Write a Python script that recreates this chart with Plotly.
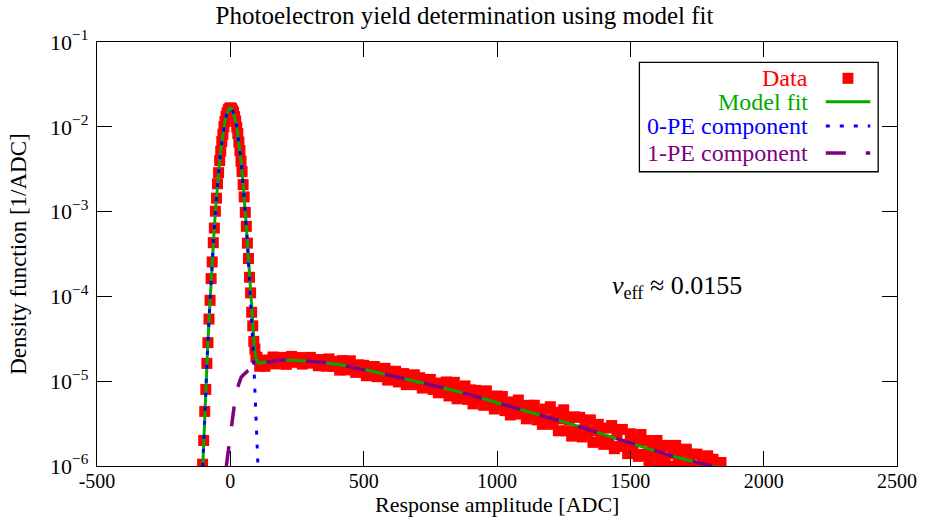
import plotly.graph_objects as go

# ---------------- data ----------------
# measured density, peak region (4 ADC bins)
peak_x = list(range(-104, 100, 4))
peak_y = [1.05e-6, 2.0e-6, 4.4e-6, 8.0e-6, 1.62e-5, 2.85e-5, 5.4e-5, 9.0e-5, 1.62e-4, 2.55e-4,
          4.3e-4, 6.4e-4, 1.01e-3, 1.44e-3, 2.13e-3, 2.88e-3, 4.0e-3, 5.15e-3, 6.7e-3, 8.15e-3,
          1.0e-2, 1.155e-2, 1.335e-2, 1.46e-2, 1.585e-2, 1.64e-2, 1.675e-2, 1.65e-2, 1.57e-2, 1.475e-2,
          1.32e-2, 1.17e-2, 9.9e-3, 8.3e-3, 6.6e-3, 5.25e-3, 3.93e-3, 2.96e-3, 2.08e-3, 1.49e-3,
          9.8e-4, 6.7e-4, 4.25e-4, 2.8e-4, 1.68e-4, 1.1e-4, 6.5e-5, 4.5e-5, 2.95e-5, 2.4e-5, 1.93e-5]

# measured density, tail region (10 ADC bins), in units of 1e-6 / ADC
tail_x = list(range(100, 1860, 10))
tail_y_e6 = [
    19.0, 15.0, 16.9, 15.0, 17.8, 16.7, 19.3, 16.0, 17.7, 16.9,
    19.1, 15.8, 18.1, 19.6, 16.7, 17.4, 19.0, 15.9, 18.2, 16.7,
    19.1, 16.3, 18.0, 15.2, 17.1, 18.0, 15.0, 18.3, 15.6, 14.9,
    17.1, 13.5, 17.5, 15.7, 13.6, 17.4, 13.9, 12.7, 15.6, 13.8,
    15.4, 11.6, 14.0, 12.1, 14.9, 11.3, 13.3, 11.9, 14.2, 10.3,
    12.9, 10.6, 13.1, 9.8, 11.2, 12.3, 9.1, 11.2, 9.8, 11.9,
    9.1, 11.0, 8.3, 9.9, 9.0, 10.5, 8.0, 9.5, 7.3, 9.3,
    7.6, 9.8, 6.7, 8.3, 9.7, 6.2, 8.2, 6.8, 8.8, 6.1,
    7.9, 5.4, 7.8, 6.2, 6.8, 5.2, 7.7, 5.3, 6.6, 4.7,
    6.7, 5.1, 6.6, 4.5, 5.3, 4.0, 5.7, 4.4, 6.0, 4.1,
    5.0, 3.6, 5.2, 4.1, 5.2, 3.5, 4.3, 3.1, 4.7, 3.5,
    5.0, 3.1, 4.3, 2.6, 3.6, 4.6, 2.6, 3.5, 2.25, 3.8,
    2.6, 3.75, 2.2, 3.25, 2.5, 3.5, 1.9, 2.6, 3.1, 2.0,
    1.8, 2.8, 2.0, 3.0, 1.6, 2.45, 1.7, 2.7, 1.8, 1.4,
    2.4, 1.6, 2.0, 1.3, 2.35, 1.37, 2.0, 1.15, 1.7, 1.4,
    2.0, 1.16, 1.7, 1.2, 1.75, 1.0, 1.4, 1.75, 1.1, 1.45,
    0.93, 1.58, 1.09, 1.38, 0.92, 1.38, 0.92, 1.2, 0.8, 1.32,
    0.91, 1.2, 0.8, 1.05, 1.1, 0.82]

# 0-PE component (Gaussian pedestal)
pe0_x = list(range(-110, 115, 5))
pe0_y = [3.14e-7, 8.26e-7, 2.08e-6, 4.99e-6, 1.146e-5, 2.52e-5, 5.29e-5, 1.061e-4, 2.04e-4, 3.74e-4,
         6.56e-4, 1.10e-3, 1.764e-3, 2.70e-3, 3.96e-3, 5.55e-3, 7.43e-3, 9.52e-3, 1.166e-2, 1.364e-2,
         1.526e-2, 1.633e-2, 1.670e-2, 1.633e-2, 1.526e-2, 1.364e-2, 1.166e-2, 9.52e-3, 7.43e-3, 5.55e-3,
         3.96e-3, 2.70e-3, 1.764e-3, 1.10e-3, 6.56e-4, 3.74e-4, 2.04e-4, 1.061e-4, 5.29e-5, 2.52e-5,
         1.146e-5, 4.99e-6, 2.08e-6, 8.26e-7, 3.14e-7]

# 1-PE component
pe1_x = [-15, -10, -5, 0, 5, 10, 15, 20, 25, 30, 35, 40, 45, 50, 55, 60, 65, 70, 75, 80, 85, 90, 95,
         100, 105, 110, 125, 150, 175, 200, 250, 300, 350, 400, 450, 500, 550, 600, 650, 700, 750,
         800, 850, 900, 950, 1000, 1050, 1100, 1150, 1200, 1250, 1300, 1350, 1400, 1450, 1500,
         1550, 1600, 1650, 1700, 1750, 1800, 1850]
pe1_y = [1.0e-6, 1.32e-6, 1.78e-6, 2.5e-6, 3.4e-6, 4.4e-6, 5.6e-6, 6.9e-6, 8.0e-6, 9.1e-6, 1.01e-5,
         1.10e-5, 1.15e-5, 1.20e-5, 1.25e-5, 1.29e-5, 1.32e-5, 1.35e-5, 1.38e-5, 1.41e-5, 1.44e-5,
         1.44e-5, 1.48e-5, 1.52e-5, 1.56e-5, 1.59e-5, 1.66e-5, 1.71e-5, 1.75e-5, 1.78e-5, 1.76e-5,
         1.72e-5, 1.66e-5, 1.58e-5, 1.48e-5, 1.38e-5, 1.27e-5, 1.17e-5, 1.08e-5, 1.00e-5, 9.1e-6,
         8.3e-6, 7.6e-6, 6.9e-6, 6.2e-6, 5.6e-6, 5.07e-6, 4.57e-6, 4.12e-6, 3.72e-6, 3.31e-6,
         2.97e-6, 2.64e-6, 2.35e-6, 2.09e-6, 1.86e-6, 1.66e-6, 1.48e-6, 1.33e-6, 1.20e-6, 1.10e-6,
         1.00e-6, 0.93e-6]

# full model fit
fit_x = list(range(-110, 115, 5)) + [125, 150, 175, 200, 250, 300, 350, 400, 450, 500, 550, 600,
         650, 700, 750, 800, 850, 900, 950, 1000, 1050, 1100, 1150, 1200, 1250, 1300, 1350, 1400,
         1450, 1500, 1550, 1600, 1650, 1700, 1750, 1800, 1850]
fit_y = [3.1e-7, 8.3e-7, 2.08e-6, 4.99e-6, 1.146e-5, 2.52e-5, 5.29e-5, 1.061e-4, 2.04e-4, 3.74e-4,
         6.56e-4, 1.10e-3, 1.764e-3, 2.70e-3, 3.96e-3, 5.55e-3, 7.43e-3, 9.52e-3, 1.166e-2, 1.364e-2,
         1.526e-2, 1.633e-2, 1.670e-2, 1.633e-2, 1.526e-2, 1.364e-2, 1.166e-2, 9.53e-3, 7.44e-3, 5.56e-3,
         3.97e-3, 2.71e-3, 1.776e-3, 1.11e-3, 6.69e-4, 3.87e-4, 2.18e-4, 1.20e-4, 6.70e-5, 3.97e-5,
         2.59e-5, 1.98e-5, 1.73e-5, 1.64e-5, 1.62e-5,
         1.66e-5, 1.71e-5, 1.75e-5, 1.78e-5, 1.76e-5, 1.72e-5, 1.66e-5, 1.58e-5, 1.48e-5, 1.38e-5,
         1.27e-5, 1.17e-5, 1.08e-5, 1.00e-5, 9.1e-6, 8.3e-6, 7.6e-6, 6.9e-6, 6.2e-6, 5.6e-6,
         5.07e-6, 4.57e-6, 4.12e-6, 3.72e-6, 3.31e-6, 2.97e-6, 2.64e-6, 2.35e-6, 2.09e-6, 1.86e-6,
         1.66e-6, 1.48e-6, 1.33e-6, 1.20e-6, 1.10e-6, 1.00e-6, 0.93e-6]

x_ticks = [-500, 0, 500, 1000, 1500, 2000, 2500]
x_tick_text = ["-500", "0", "500", "1000", "1500", "2000", "2500"]
y_ticks = [1e-6, 1e-5, 1e-4, 1e-3, 1e-2, 1e-1]
y_tick_text = ["10<sup>−6</sup>", "10<sup>−5</sup>", "10<sup>−4</sup>",
               "10<sup>−3</sup>", "10<sup>−2</sup>", "10<sup>−1</sup>"]

legend_labels = ["Data", "Model fit", "0-PE component", "1-PE component"]
RED, GREEN, BLUE, PURPLE = "#ff0000", "#00aa00", "#0000ff", "#800080"
FONT = "Liberation Serif"

data_x = peak_x + tail_x
data_y = peak_y + [v * 1e-6 for v in tail_y_e6]

fig = go.Figure()
fig.add_trace(go.Scatter(x=data_x, y=data_y, mode="markers", name=legend_labels[0],
                         marker=dict(symbol="square", size=11, color=RED, line=dict(width=0))))
fig.add_trace(go.Scatter(x=fit_x, y=fit_y, mode="lines", name=legend_labels[1],
                         line=dict(color=GREEN, width=3)))
fig.add_trace(go.Scatter(x=pe0_x, y=pe0_y, mode="lines", name=legend_labels[2],
                         line=dict(color=BLUE, width=3, dash="4px,10px")))
fig.add_trace(go.Scatter(x=pe1_x, y=pe1_y, mode="lines", name=legend_labels[3],
                         line=dict(color=PURPLE, width=3.5, dash="20px,20px")))

axis_common = dict(showline=True, linecolor="black", linewidth=1.3, mirror="ticks",
                   ticks="inside", ticklen=15, tickwidth=1.2, tickcolor="black",
                   showgrid=False, zeroline=False)

fig.update_layout(
    width=929, height=518,
    margin=dict(l=97, r=24, t=42, b=52),
    paper_bgcolor="white", plot_bgcolor="white",
    showlegend=False,
    font=dict(family=FONT, size=20, color="black"),
    title=dict(text="Photoelectron yield determination using model fit", x=0.5, xref="container",
               xanchor="center", y=1 - 15 / 518, yref="container", yanchor="middle",
               font=dict(family=FONT, size=25, color="black")),
    xaxis=dict(range=[-500, 2500], tickvals=x_ticks, ticktext=x_tick_text,
               ticklabelstandoff=-3,
               tickfont=dict(family=FONT, size=20, color="black"), **axis_common),
    yaxis=dict(type="log", range=[-6, -1], tickvals=y_ticks, ticktext=y_tick_text,
               ticklabelstandoff=3,
               tickfont=dict(family=FONT, size=22, color="black"), **axis_common),
)

# axis titles
fig.add_annotation(text="Response amplitude [ADC]", xref="paper", yref="paper", x=0.5, y=-0.091,
                   xanchor="center", yanchor="middle", showarrow=False, borderpad=0,
                   font=dict(family=FONT, size=22, color="black"))
fig.add_annotation(text="Density function [1/ADC]", xref="paper", yref="paper", x=-0.099, y=0.5,
                   xanchor="center", yanchor="middle", textangle=-90, showarrow=False,
                   font=dict(family=FONT, size=23, color="black"))

# nu_eff annotation
fig.add_annotation(text="<i>ν</i><sub>eff</sub> ≈ 0.0155", xref="x", yref="y", x=1422, y=-3.889,
                   xanchor="left", yanchor="middle", showarrow=False,
                   font=dict(family=FONT, size=26, color="black"))

# custom legend (text left, sample right, gnuplot style)
fig.add_shape(type="rect", xref="paper", yref="paper", x0=0.678, x1=0.9765, y0=0.694, y1=0.952,
              line=dict(color="black", width=1.3), fillcolor="white", layer="above")
rows = [0.9144, 0.8592, 0.8019, 0.7382]
colors = [RED, GREEN, BLUE, PURPLE]
for lab, yy, col in zip(legend_labels, rows, colors):
    fig.add_annotation(text=lab, xref="paper", yref="paper", x=0.891, y=yy, xanchor="right",
                       yanchor="middle", showarrow=False, font=dict(family=FONT, size=24, color=col))
fig.add_shape(type="rect", xref="paper", yref="paper", x0=0.9387 - 0.0068, x1=0.9387 + 0.0068,
              y0=rows[0] - 0.013, y1=rows[0] + 0.013, line=dict(width=0), fillcolor=RED, layer="above")
fig.add_shape(type="line", xref="paper", yref="paper", x0=0.911, x1=0.9666, y0=rows[1], y1=rows[1],
              line=dict(color=GREEN, width=3), layer="above")
fig.add_shape(type="line", xref="paper", yref="paper", x0=0.911, x1=0.9666, y0=rows[2], y1=rows[2],
              line=dict(color=BLUE, width=3, dash="4px,10px"), layer="above")
fig.add_shape(type="line", xref="paper", yref="paper", x0=0.911, x1=0.9666, y0=rows[3], y1=rows[3],
              line=dict(color=PURPLE, width=3.5, dash="20px,20px"), layer="above")

fig.write_html("out.html", config={"displayModeBar": False},
               post_script="document.body.style.margin='0';")
